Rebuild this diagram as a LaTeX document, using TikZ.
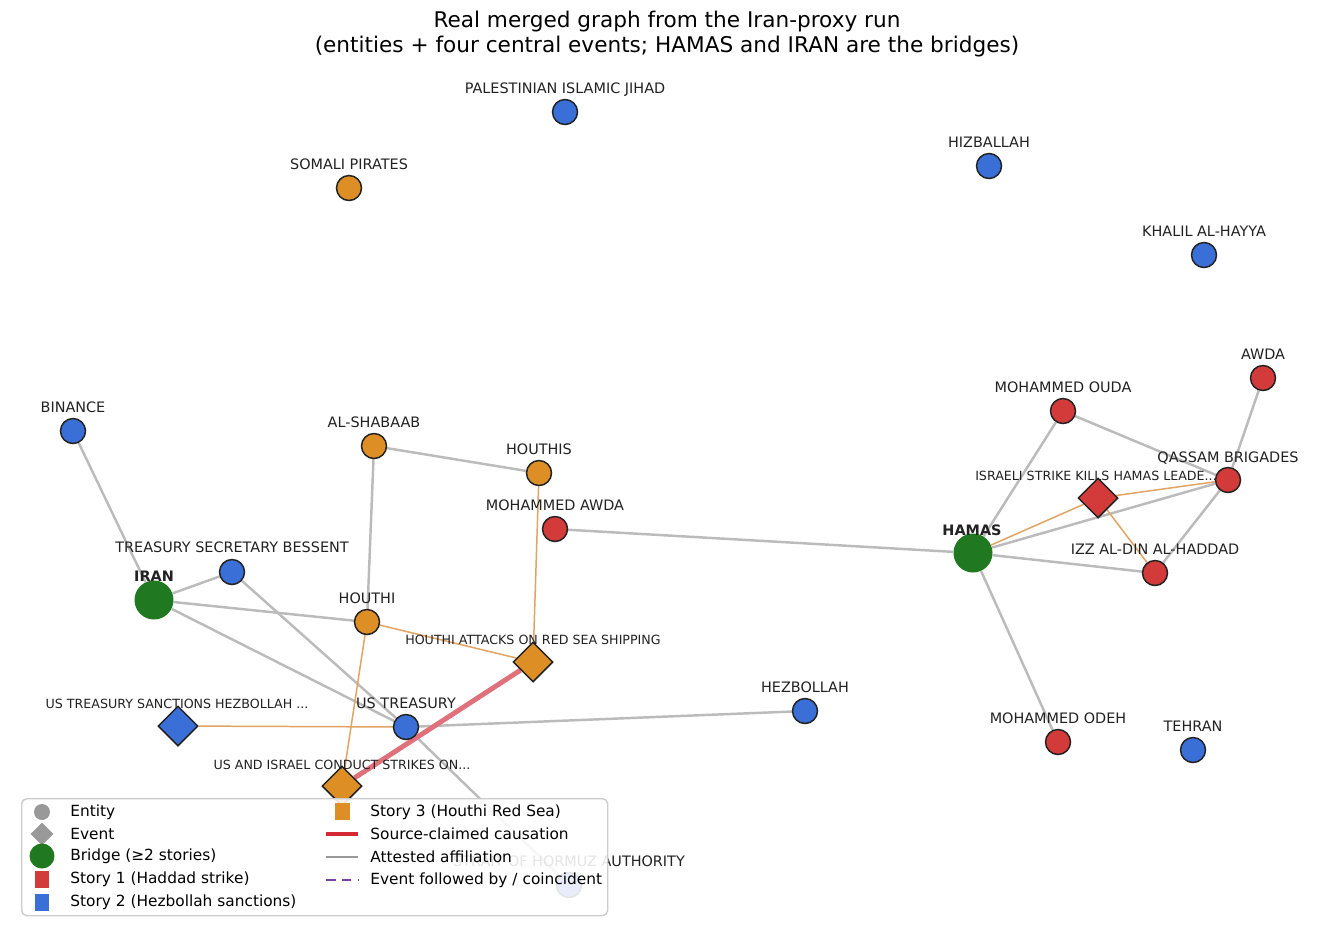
\documentclass[tikz,border=0pt]{standalone}
\usepackage{fontspec}
\setmainfont{DejaVu Sans}
\usepackage{tikz}
\usetikzlibrary{shapes.geometric, backgrounds}
\definecolor{sred}{HTML}{D33B3B}
\definecolor{sblue}{HTML}{3A6FD8}
\definecolor{sorange}{HTML}{DD8F26}
\definecolor{bridgegreen}{HTML}{207820}
\definecolor{edgegray}{HTML}{BBBBBB}
\definecolor{edgeorange}{HTML}{E2A463}
\definecolor{causalred}{HTML}{E0707A}
\definecolor{legred}{HTML}{D62833}
\definecolor{inkdark}{HTML}{222222}
\definecolor{legpurple}{HTML}{7B3FA8}
\definecolor{leggray}{HTML}{999999}

\begin{document}
\begin{tikzpicture}[
            x=0.02cm, y=-0.02cm,
            ent/.style={
                circle,
                draw=inkdark,
                line width=0.85pt,
                minimum size=0.5cm,
                inner sep=0pt
            },
            bridge/.style={circle, fill=bridgegreen, minimum size=0.78cm, inner sep=0pt},
            event/.style={diamond, draw=inkdark, line width=0.85pt, minimum size=0.8cm, inner sep=0pt},
            lab/.style={text=inkdark, inner sep=0pt, text height=1.5ex, text depth=0pt, yshift=1pt,
                font=\fontsize{8.2}{9}\selectfont},
            evlab/.style={lab, font=\fontsize{7.2}{8}\selectfont},
            bridgelab/.style={lab, font=\fontsize{8.2}{9}\selectfont\bfseries},
            affil/.style={draw=edgegray, line width=1.4pt},
            storyedge/.style={draw=edgeorange, line width=0.85pt},
            causal/.style={draw=causalred, line width=2.8pt},
            legtext/.style={anchor=west, inner sep=0pt, font=\fontsize{8.75}{10}\selectfont},
            title/.style={font=\fontsize{12.3}{14.5}\selectfont, align=center}
        ]

        \useasboundingbox (0,0) rectangle (1335,937);

        \node[title] (title) at (667,34) {Real merged graph from the Iran-proxy run\\(entities + four central events; HAMAS and IRAN are the bridges)};

        % isolated entities
        \node[ent, fill=sblue]   (pij)      at (565,112) {};
        \node[lab]               at (565,88)  {PALESTINIAN ISLAMIC JIHAD};
        \node[ent, fill=sorange] (somali)   at (349,188) {};
        \node[lab]               at (349,164) {SOMALI PIRATES};
        \node[ent, fill=sblue]   (hizb)     at (989,166) {};
        \node[lab]               at (989,142) {HIZBALLAH};
        \node[ent, fill=sblue]   (khalil)   at (1204,255) {};
        \node[lab]               at (1204,231) {KHALIL AL-HAYYA};
        \node[ent, fill=sblue]   (tehran)   at (1193,750) {};
        \node[lab]               at (1193,726) {TEHRAN};

        % story 1
        \node[ent, fill=sred]    (awda)     at (1263,378) {};
        \node[lab]               at (1263,354) {AWDA};
        \node[ent, fill=sred]    (ouda)     at (1063,411) {};
        \node[lab]               at (1063,387) {MOHAMMED OUDA};
        \node[ent, fill=sred]    (qassam)   at (1228,480) {};
        \node[lab]               at (1228,457) {QASSAM BRIGADES};
        \node[event, fill=sred]  (strike)   at (1098,498) {};
        \node[evlab]             at (1096,475) {ISRAELI STRIKE KILLS HAMAS LEADE...};
        \node[bridge]            (hamas)    at (973,553) {};
        \node[bridgelab]         at (972,530) {HAMAS};
        \node[ent, fill=sred]    (izz)      at (1155,573) {};
        \node[lab]               at (1155,549) {IZZ AL-DIN AL-HADDAD};
        \node[ent, fill=sred]    (odeh)     at (1058,742) {};
        \node[lab]               at (1058,718) {MOHAMMED ODEH};
        \node[ent, fill=sred]    (mawda)    at (555,529) {};
        \node[lab]               at (555,505) {MOHAMMED AWDA};

        % story 2
        \node[ent, fill=sblue]   (binance)  at (73,431) {};
        \node[lab]               at (73,407) {BINANCE};
        \node[ent, fill=sblue]   (bessent)  at (232,572) {};
        \node[lab]               at (232,547) {TREASURY SECRETARY BESSENT};
        \node[bridge]            (iran)     at (154,600) {};
        \node[bridgelab]         at (154,576) {IRAN};
        \node[event, fill=sblue] (sanction) at (178,726) {};
        \node[evlab]             at (177,703) {US TREASURY SANCTIONS HEZBOLLAH ...};
        \node[ent, fill=sblue]   (ustreas)  at (406,727) {};
        \node[lab]               at (406,703) {US TREASURY};
        \node[ent, fill=sblue]   (hezb)     at (805,711) {};
        \node[lab]               at (805,687) {HEZBOLLAH};
        \node[ent, fill=sblue]   (hormuz)   at (569,885) {};
        \node[lab]               at (569,861) {STRAIT OF HORMUZ AUTHORITY};

        % story 3
        \node[ent, fill=sorange] (shabaab)  at (374,446) {};
        \node[lab]               at (374,422) {AL-SHABAAB};
        \node[ent, fill=sorange] (houthis)  at (539,473) {};
        \node[lab]               at (539,449) {HOUTHIS};
        \node[ent, fill=sorange] (houthi)   at (367,622) {};
        \node[lab]               at (367,598) {HOUTHI};
        \node[event, fill=sorange] (redsea) at (533,662) {};
        \node[evlab]             at (533,639) {HOUTHI ATTACKS ON RED SEA SHIPPING};
        \node[event, fill=sorange] (usisr)  at (342,786) {};
        \node[evlab]             at (342,764) {US AND ISRAEL CONDUCT STRIKES ON...};

        \begin{scope}[on background layer]
            \fill[white] (0,0) rectangle (1335,937);
            % affiliations
            \draw[affil] (binance) -- (iran);
            \draw[affil] (iran) -- (bessent);
            \draw[affil] (iran) -- (houthi);
            \draw[affil] (iran) -- (ustreas);
            \draw[affil] (bessent) -- (ustreas);
            \draw[affil] (ustreas) -- (hormuz);
            \draw[affil] (ustreas) -- (hezb);
            \draw[affil] (shabaab) -- (houthi);
            \draw[affil] (shabaab) -- (houthis);
            \draw[affil] (mawda) -- (hamas);
            \draw[affil] (hamas) -- (ouda);
            \draw[affil] (hamas) -- (qassam);
            \draw[affil] (hamas) -- (izz);
            \draw[affil] (hamas) -- (odeh);
            \draw[affil] (ouda) -- (qassam);
            \draw[affil] (awda) -- (qassam);
            \draw[affil] (qassam) -- (izz);
            % event links
            \draw[storyedge] (sanction) -- (ustreas);
            \draw[storyedge] (houthis) -- (redsea);
            \draw[storyedge] (houthi) -- (redsea);
            \draw[storyedge] (houthi) -- (usisr);
            \draw[storyedge] (hamas) -- (strike);
            \draw[storyedge] (strike) -- (qassam);
            \draw[storyedge] (strike) -- (izz);
            % causation
            \draw[causal] (redsea) -- (usisr);
        \end{scope}

        % legend
        \node[draw=black!20, fill=white, fill opacity=0.88, rounded corners=3pt, line width=0.8pt,
              minimum width=586*0.02cm, minimum height=117*0.02cm, anchor=north west] (legend) at (21,798) {};
        \node[circle, fill=leggray, minimum size=0.32cm, inner sep=0pt] (keyent) at (42,812) {};
        \node[legtext] at (70,812) {Entity};
        \node[diamond, fill=leggray, minimum size=0.46cm, inner sep=0pt] (keyev) at (42,834) {};
        \node[legtext] at (70,834) {Event};
        \node[circle, fill=bridgegreen, minimum size=0.5cm, inner sep=0pt] (keybr) at (42,856) {};
        \node[legtext] at (70,856) {Bridge (≥2 stories)};
        \node[fill=sred, minimum width=0.3cm, minimum height=0.34cm, inner sep=0pt] (keys1) at (42,879) {};
        \node[legtext] at (70,879) {Story 1 (Haddad strike)};
        \node[fill=sblue, minimum width=0.3cm, minimum height=0.34cm, inner sep=0pt] (keys2) at (42,902) {};
        \node[legtext] at (70,902) {Story 2 (Hezbollah sanctions)};
        \node[fill=sorange, minimum width=0.3cm, minimum height=0.34cm, inner sep=0pt] (keys3) at (342,811) {};
        \node[legtext] at (370,812) {Story 3 (Houthi Red Sea)};
        \coordinate (kc1) at (326,834);
        \coordinate (kc2) at (358,834);
        \draw[draw=legred, line width=2.4pt] (kc1) -- (kc2);
        \node[legtext] at (370,834) {Source-claimed causation};
        \coordinate (ka1) at (326,857);
        \coordinate (ka2) at (358,857);
        \draw[draw=leggray, line width=1.2pt] (ka1) -- (ka2);
        \node[legtext] at (370,857) {Attested affiliation};
        \coordinate (kf1) at (326,880);
        \coordinate (kf2) at (358,880);
        \draw[draw=legpurple, line width=1.3pt, dash pattern=on 5.5pt off 3.5pt] (kf1) -- (kf2);
        \node[legtext] at (370,880) {Event followed by / coincident};
\end{tikzpicture}
\end{document}
